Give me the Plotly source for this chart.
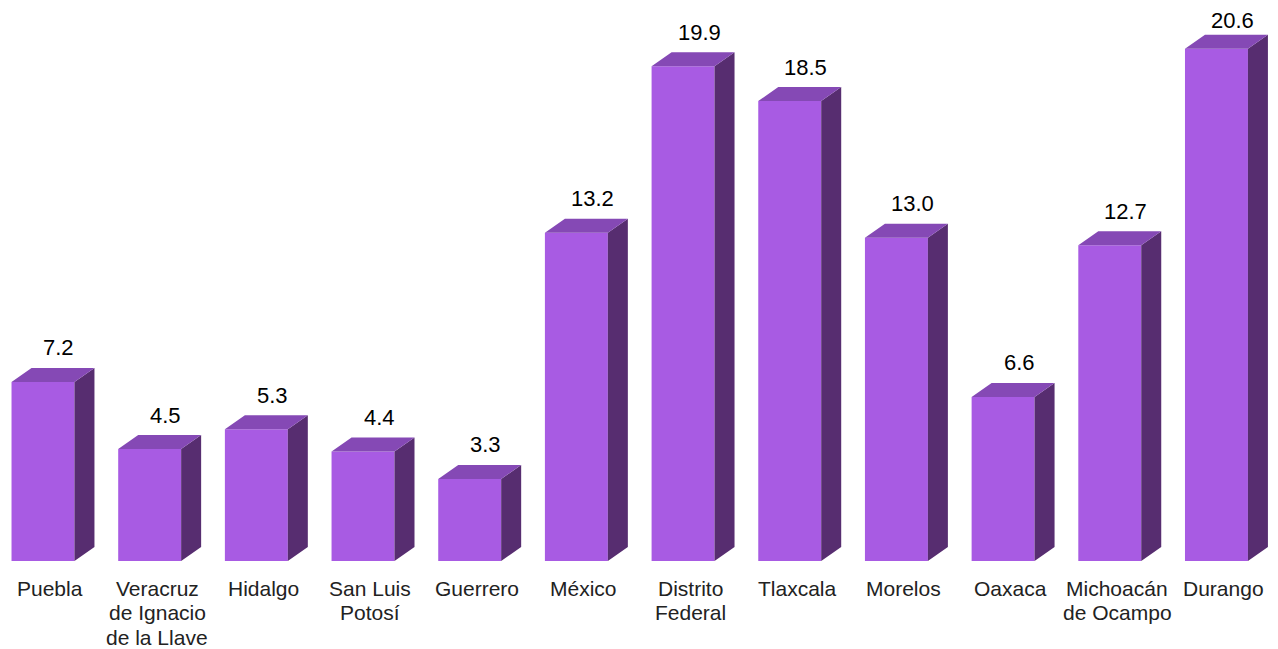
import plotly.graph_objects as go

estados = ['Puebla', 'Veracruz<br>de Ignacio<br>de la Llave', 'Hidalgo', 'San Luis<br>Potosí',
           'Guerrero', 'México', 'Distrito<br>Federal', 'Tlaxcala', 'Morelos', 'Oaxaca',
           'Michoacán<br>de Ocampo', 'Durango']
valores = [7.2, 4.5, 5.3, 4.4, 3.3, 13.2, 19.9, 18.5, 13.0, 6.6, 12.7, 20.6]

FRONT = '#A85BE3'
TOP = '#8549B5'
SIDE = '#572D70'
FONT = 'Liberation Sans, Arial'

w = 0.59      # bar width (x units)
dx = 0.1875   # depth offset in x units
dy = 0.563    # depth offset in y units
y_max = 22.24
px_per_unit = 553 / y_max

xs = list(range(len(valores)))

# top and side faces as polygons, separated by None
top_x, top_y, side_x, side_y = [], [], [], []
for i, v in zip(xs, valores):
    x0, x1 = i - w / 2, i + w / 2
    top_x += [x0, x0 + dx, x1 + dx, x1, x0, None]
    top_y += [v, v + dy, v + dy, v, v, None]
    side_x += [x1, x1, x1 + dx, x1 + dx, x1, None]
    side_y += [0, v, v + dy, dy, 0, None]

fig = go.Figure()
fig.add_trace(go.Scatter(x=side_x, y=side_y, fill='toself', fillcolor=SIDE, mode='lines',
                         line=dict(width=0, color=SIDE), hoverinfo='skip', showlegend=False))
fig.add_trace(go.Scatter(x=top_x, y=top_y, fill='toself', fillcolor=TOP, mode='lines',
                         line=dict(width=0, color=TOP), hoverinfo='skip', showlegend=False))
fig.add_trace(go.Bar(x=xs, y=valores, width=w, marker=dict(color=FRONT, line=dict(width=0)),
                     showlegend=False))

# value labels, pulled down near the top edge so they stay visible
for i, v in zip(xs, valores):
    room = 553 - v * px_per_unit + 8 - 20
    fig.add_annotation(x=i + 0.15, y=v, text=f'{v:.1f}', showarrow=False,
                       yanchor='middle', yshift=min(34, room),
                       font=dict(family=FONT, size=22, color='#000000'))

# category labels, one annotation per line for tighter line spacing
for i, nombre in zip(xs, estados):
    for k, linea in enumerate(nombre.split('<br>')):
        fig.add_annotation(x=i + 0.07, y=0, text=linea, showarrow=False,
                           yanchor='middle', yshift=-(27 + 24.5 * k),
                           font=dict(family=FONT, size=21, color='#222222'))

# the page body adds an 8px offset, ranges/margins compensate for it
fig.update_layout(
    width=1278, height=649,
    margin=dict(l=0, r=0, t=0, b=96),
    plot_bgcolor='white', paper_bgcolor='white',
    xaxis=dict(range=[-0.328, 11.652], showticklabels=False,
               showgrid=False, zeroline=False, showline=False, ticks=''),
    yaxis=dict(range=[0, y_max], visible=False, showgrid=False, zeroline=False),
)

fig.write_html('out.html')
